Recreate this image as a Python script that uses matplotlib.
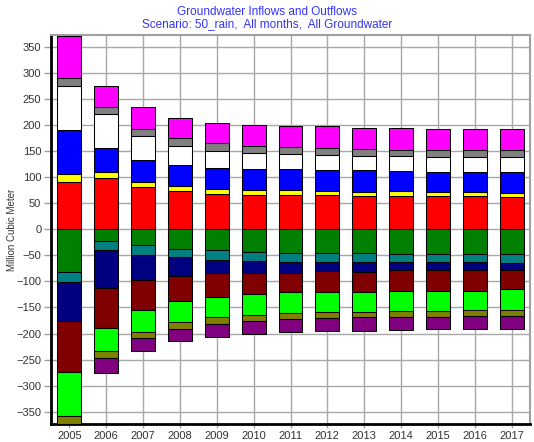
import matplotlib
matplotlib.use("Agg")
import matplotlib.pyplot as plt
import numpy as np

plt.rcParams['font.family'] = ['Liberation Sans', 'DejaVu Sans']

years = ["2005", "2006", "2007", "2008", "2009", "2010", "2011",
         "2012", "2013", "2014", "2015", "2016", "2017"]

# Inflows (stacked upward from zero, bottom to top)
inflow_red     = [90.0, 99.0, 81.0, 72.8, 67.7, 66.4, 65.1, 65.1, 63.2, 63.2, 63.2, 63.2, 62.0]
inflow_yellow  = [16.0, 11.5, 9.7, 9.6, 9.6, 9.0, 10.3, 8.4, 9.0, 9.6, 9.0, 7.7, 8.3]
inflow_blue    = [85.0, 46.0, 41.5, 40.2, 40.9, 39.6, 39.6, 39.5, 40.8, 38.3, 37.7, 39.0, 39.6]
inflow_white   = [83.6, 63.8, 46.0, 36.4, 32.5, 31.3, 28.7, 29.4, 27.5, 30.1, 29.3, 29.3, 29.3]
inflow_gray    = [16.0, 14.7, 14.7, 15.4, 14.1, 14.0, 14.1, 14.1, 14.1, 11.4, 12.2, 12.2, 12.2]
inflow_magenta = [79.8, 39.6, 40.9, 38.9, 38.9, 39.6, 40.2, 40.9, 40.2, 40.9, 40.2, 40.2, 40.2]

# Outflows (stacked downward from zero, top to bottom)
outflow_green   = [82.5, 23.0, 30.7, 37.0, 40.2, 44.0, 45.3, 46.0, 46.0, 46.6, 46.6, 46.6, 46.6]
outflow_teal    = [18.5, 17.3, 18.5, 16.7, 19.2, 16.7, 17.3, 16.6, 17.2, 16.6, 16.6, 16.6, 18.5]
outflow_navy    = [74.0, 71.5, 47.3, 35.1, 24.9, 22.3, 20.4, 17.9, 17.9, 15.4, 15.4, 15.4, 13.5]
outflow_darkred = [99.0, 76.7, 57.5, 49.2, 44.7, 41.0, 37.7, 38.9, 38.9, 39.6, 38.9, 38.9, 36.4]
outflow_lime    = [85.0, 45.3, 42.8, 40.2, 39.6, 40.0, 40.3, 39.6, 39.0, 38.3, 38.3, 37.7, 39.6]
outflow_olive   = [14.5, 13.4, 12.1, 12.1, 12.8, 11.6, 11.4, 11.5, 9.6, 12.1, 11.5, 11.5, 11.4]
outflow_purple  = [0.0, 28.8, 24.9, 23.1, 24.3, 24.4, 25.0, 25.5, 26.2, 24.9, 24.3, 24.9, 25.6]

inflows = [
    (inflow_red, "#FF0000"),
    (inflow_yellow, "#FFFF00"),
    (inflow_blue, "#0000FF"),
    (inflow_white, "#FFFFFF"),
    (inflow_gray, "#808080"),
    (inflow_magenta, "#FF00FF"),
]
outflows = [
    (outflow_green, "#008000"),
    (outflow_teal, "#008080"),
    (outflow_navy, "#000080"),
    (outflow_darkred, "#800000"),
    (outflow_lime, "#00FF00"),
    (outflow_olive, "#808000"),
    (outflow_purple, "#800080"),
]

fig = plt.figure(figsize=(5.34, 4.42), dpi=100)
ax = fig.add_axes([51 / 534, 17.7 / 442, (530 - 51) / 534, (424.3 - 35) / 442])

x = np.arange(len(years))
width = 0.65

bottom = np.zeros(len(years))
for vals, color in inflows:
    v = np.array(vals)
    ax.bar(x, v, width, bottom=bottom, color=color, edgecolor="black",
           linewidth=0.75, zorder=3)
    bottom += v

bottom = np.zeros(len(years))
for vals, color in outflows:
    v = np.array(vals)
    ax.bar(x, -v, width, bottom=bottom, color=color, edgecolor="black",
           linewidth=0.75, zorder=3)
    bottom -= v

ax.set_xlim(-0.5, len(years) - 0.5)
ax.set_ylim(-374, 372.5)
ax.set_yticks(np.arange(-350, 351, 50))
ax.set_xticks(x)
ax.set_xticklabels(years)

ax.grid(True, color="#A8A8A8", linewidth=1.0, zorder=0)
ax.set_axisbelow(True)

ax.tick_params(axis="both", labelsize=8, colors="#A0A0A0", labelcolor="#333333",
               width=1)
ax.tick_params(axis="y", length=5, pad=2)
ax.tick_params(axis="x", length=3, pad=1.5)

for side in ("left", "bottom"):
    ax.spines[side].set_linewidth(2)
    ax.spines[side].set_color("black")
for side in ("top", "right"):
    ax.spines[side].set_linewidth(1.5)
    ax.spines[side].set_color("#A0A0A0")

fig.text(12 / 534, 1 - 230 / 442, "Million Cubic Meter", rotation=90,
         ha="center", va="center", fontsize=7, color="#333333")

fig.text(0.5, 1 - 12 / 442, "Groundwater Inflows and Outflows",
         ha="center", va="center", fontsize=8.5, color="#3333FF")
fig.text(0.5, 1 - 24 / 442, "Scenario: 50_rain,  All months,  All Groundwater",
         ha="center", va="center", fontsize=8.5, color="#3333FF")

fig.savefig("out.png", dpi=100)
